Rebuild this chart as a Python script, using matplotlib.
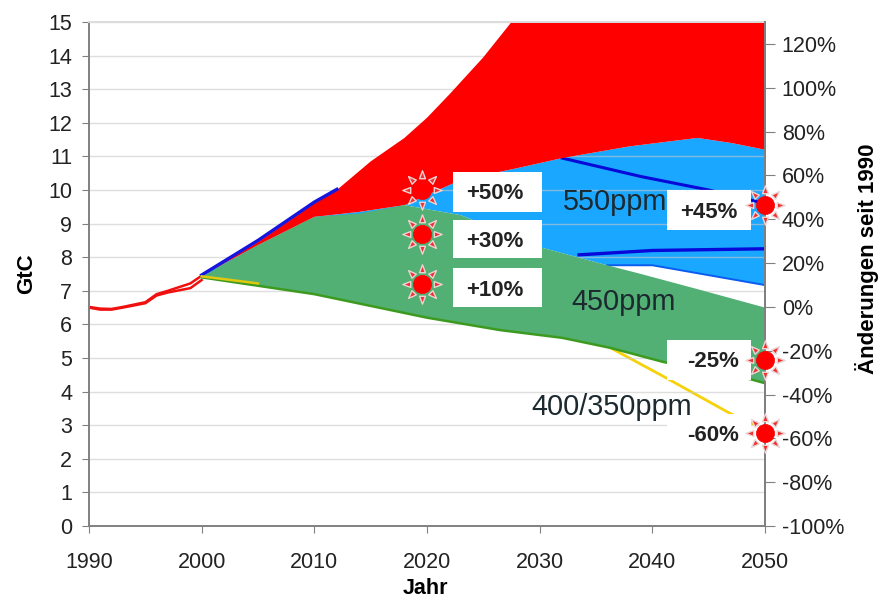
import numpy as np
import matplotlib
matplotlib.use('Agg')
import matplotlib.pyplot as plt
from matplotlib.path import Path
from matplotlib.patches import Rectangle

plt.rcParams['font.family'] = ['Liberation Sans', 'DejaVu Sans']

# history, two nearly identical red lines
hist_years = [1990, 1991, 1992, 1993, 1995, 1996, 1997, 1999, 2000]
hist_a = [6.52, 6.47, 6.46, 6.52, 6.66, 6.9, 7.0, 7.22, 7.45]
hist_b = [6.5, 6.44, 6.44, 6.5, 6.63, 6.86, 6.95, 7.08, 7.32]

# red area
red_top_years = [2000, 2005, 2010, 2012, 2015, 2018, 2020, 2022, 2025, 2027.5, 2050]
red_top = [7.45, 8.45, 9.6, 10.0, 10.85, 11.55, 12.15, 12.85, 13.95, 15, 15]

# blue area
blue_top_years = [2000, 2005, 2010, 2014, 2018, 2020, 2023, 2028, 2032, 2038, 2044, 2047, 2050]
blue_top = [7.45, 8.36, 9.2, 9.35, 9.55, 9.85, 10.3, 10.65, 10.95, 11.3, 11.55, 11.4, 11.2]
blue_low_years = [2036, 2040, 2050]
blue_low = [7.76, 7.76, 7.17]

# green area
green_top_years = [2000, 2005, 2010, 2014, 2018, 2023, 2030, 2036, 2039, 2044, 2050]
green_top = [7.42, 8.36, 9.2, 9.3, 9.55, 9.25, 8.3, 7.76, 7.5, 7.05, 6.5]
green_low_years = [2000, 2005, 2010, 2015, 2020, 2026.5, 2032, 2036.3, 2041, 2048.7, 2050]
green_low = [7.4, 7.15, 6.9, 6.55, 6.2, 5.83, 5.6, 5.3, 4.88, 4.37, 4.25]

# scenario lines
blue_line_a_years = [2000, 2005, 2010, 2012]
blue_line_a = [7.47, 8.5, 9.64, 10.02]
blue_line_b_years = [2032, 2039, 2045, 2050]
blue_line_b = [10.95, 10.4, 10.0, 9.6]
blue_line_c_years = [2033.5, 2040, 2050]
blue_line_c = [8.07, 8.2, 8.25]
yellow_a_years = [2000, 2005]
yellow_a = [7.43, 7.22]
yellow_b_years = [2036.3, 2041, 2046.9, 2049.2]
yellow_b = [5.3, 4.45, 3.35, 3.0]

# suns and boxes
sun_years = [2019.6, 2019.6, 2019.6, 2050, 2050, 2050]
sun_vals = [10.0, 8.69, 7.2, 9.55, 4.94, 2.77]
box_labels = ['+50%', '+30%', '+10%', '+45%', '-25%', '-60%']
box_x = [2022.3, 2022.3, 2022.3, 2041.3, 2041.3, 2041.3]
box_w = [7.9, 7.9, 7.9, 7.5, 7.5, 7.5]
box_y = [9.35, 7.98, 6.52, 8.81, 4.35, 2.26]
box_h = [1.19, 1.13, 1.16, 1.2, 1.2, 1.07]
label_x = [2026.0, 2026.0, 2026.0, 2045.0, 2045.4, 2045.4]
label_y = [9.9, 8.47, 7.01, 9.34, 4.9, 2.7]
ppm_labels = ['550ppm', '450ppm', '400/350ppm']
ppm_x = [2032.1, 2032.8, 2029.3]
ppm_y = [9.63, 6.66, 3.55]

left_ticks = list(range(0, 16))
x_ticks = list(range(1990, 2051, 10))
right_ticks = list(range(-100, 121, 20))


def sun_rays():
    verts = []
    codes = []
    for a in np.radians(np.arange(0, 360, 45)):
        d = np.array([np.cos(a), np.sin(a)])
        n = np.array([-d[1], d[0]])
        verts += [0.6 * d + 0.15 * n, 1.0 * d, 0.6 * d - 0.15 * n, 0.6 * d]
        codes += [Path.MOVETO, Path.LINETO, Path.LINETO, Path.CLOSEPOLY]
    return Path(verts, codes)


fig = plt.figure(figsize=(8.79, 5.98), dpi=100)
ax = fig.add_axes([89 / 879, 1 - 526 / 598, 676 / 879, 504 / 598])

ax.fill(red_top_years + blue_top_years[::-1], red_top + blue_top[::-1], color='#ff0000', lw=0, zorder=3)
blue_x = blue_top_years + blue_low_years[::-1] + [2030, 2023, 2018]
blue_y = blue_top + blue_low[::-1] + [8.3, 9.25, 9.55]
ax.fill(blue_x, blue_y, color='#1aa7ff', lw=0, zorder=1)
ax.fill(green_top_years + green_low_years[::-1], green_top + green_low[::-1], color='#52b075', lw=0, zorder=3)

ax.plot(hist_years, hist_a, color='#f01010', lw=1.8, zorder=4)
ax.plot(hist_years, hist_b, color='#f01010', lw=1.8, zorder=4)
ax.plot(blue_line_a_years, blue_line_a, color='#1515e0', lw=2.4, zorder=4)
ax.plot(blue_line_b_years, blue_line_b, color='#0808d8', lw=2.2, zorder=2)
ax.plot(blue_line_c_years, blue_line_c, color='#0808d8', lw=2.4, zorder=2)
ax.plot(blue_low_years, blue_low, color='#0a5cf0', lw=1.4, zorder=2)
ax.plot(green_low_years, green_low, color='#3c9a1e', lw=1.8, zorder=4)
ax.plot(yellow_a_years, yellow_a, color='#e0c810', lw=1.8, zorder=5)
ax.plot(yellow_b_years, yellow_b, color='#f5d20a', lw=2, zorder=2.5)

ax.set_xlim(1990, 2050)
ax.set_ylim(0, 15)
ax.set_xticks(x_ticks)
ax.set_yticks(left_ticks)
ax.grid(axis='y', color='#c8c8c8', alpha=0.6, lw=1.0, zorder=1.5)
ax.set_axisbelow(False)
ax.xaxis.grid(False)
ax.tick_params(axis='x', length=5, color='#808080', labelsize=15.5, labelcolor='#222222', pad=14)
ax.tick_params(axis='y', length=5, color='#808080', labelsize=15.5, labelcolor='#222222', pad=7)
for name in ['top', 'right', 'left', 'bottom']:
    ax.spines[name].set_color('#808080')
    ax.spines[name].set_linewidth(1.4)
    ax.spines[name].set_zorder(6)
ax.spines['top'].set_color('#dcdcdc')
ax.set_xlabel('Jahr', fontsize=15.5, fontweight='bold', labelpad=3, x=0.497)
ax.set_ylabel('GtC', fontsize=16, fontweight='bold', labelpad=8)

ax2 = ax.twinx()
ax2.set_ylim(-100, 130)
ax2.set_yticks(right_ticks)
ax2.set_yticklabels([f'{t}%' for t in right_ticks])
ax2.tick_params(axis='y', direction='out', length=7, color='#808080', labelsize=15.5, labelcolor='#222222', pad=5)
ax2.spines['right'].set_color('#808080')
ax2.spines['right'].set_linewidth(1.4)
for name in ['top', 'left', 'bottom']:
    ax2.spines[name].set_visible(False)
ax2.set_ylabel('Änderungen seit 1990', fontsize=16, fontweight='bold', labelpad=8, y=0.53)

# boxes and suns go on the top axes so they cover the tick marks
for x, w, y, h in zip(box_x, box_w, box_y, box_h):
    ax2.add_patch(Rectangle((x, y * 230 / 15 - 100), w, h * 230 / 15, color='white', lw=0, zorder=7))
for lab, x, y in zip(box_labels, label_x, label_y):
    ax2.text(x, y * 230 / 15 - 100, lab, fontsize=16, fontweight='bold',
             color='#222222', ha='center', va='center', zorder=8)
for lab, x, y in zip(ppm_labels, ppm_x, ppm_y):
    ax2.text(x, y * 230 / 15 - 100, lab, fontsize=20.8, color='#1c2a30', ha='left', va='center', zorder=8)

sun_y = [v * 230 / 15 - 100 for v in sun_vals]
ax2.scatter(sun_years, sun_y, s=800, marker=sun_rays(), facecolor='#f03030', edgecolor='#ecd4d4',
            linewidths=1.0, zorder=9, clip_on=False)
ax2.scatter(sun_years, sun_y, s=170, marker='o', facecolor='#ff0000', edgecolor='#ff0000',
            linewidths=0.5, zorder=10, clip_on=False)

fig.savefig('out.png', dpi=100)
